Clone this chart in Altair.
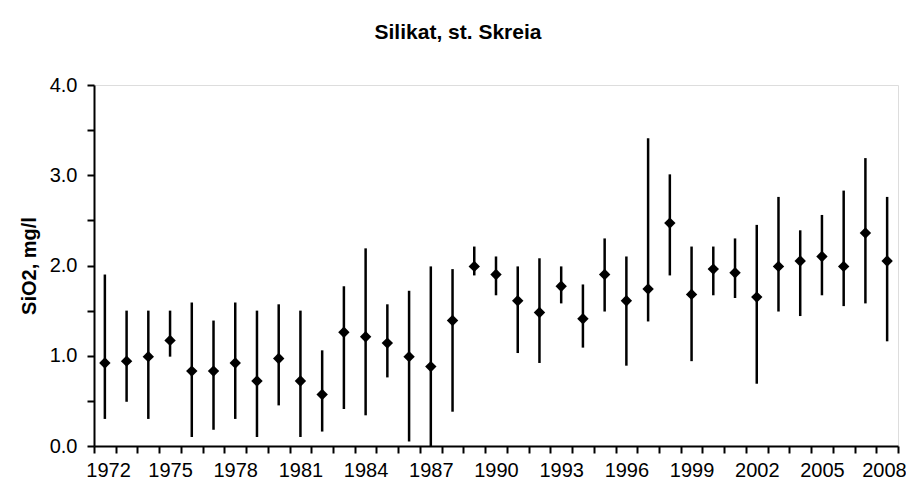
import altair as alt
import pandas as pd

years = list(range(1972, 2009))
means = [0.92, 0.94, 0.99, 1.17, 0.83, 0.83, 0.92, 0.72, 0.97, 0.72, 0.57, 1.26,
         1.21, 1.14, 0.99, 0.88, 1.39, 1.99, 1.90, 1.61, 1.48, 1.77, 1.41, 1.90,
         1.61, 1.74, 2.47, 1.68, 1.96, 1.92, 1.65, 1.99, 2.05, 2.10, 1.99, 2.36, 2.05]
lows = [0.30, 0.49, 0.30, 0.99, 0.10, 0.18, 0.30, 0.10, 0.45, 0.10, 0.16, 0.41,
        0.34, 0.76, 0.05, 0.00, 0.38, 1.89, 1.67, 1.03, 0.92, 1.58, 1.09, 1.49,
        0.89, 1.38, 1.89, 0.94, 1.67, 1.64, 0.69, 1.49, 1.44, 1.67, 1.55, 1.58, 1.16]
highs = [1.90, 1.50, 1.50, 1.50, 1.59, 1.39, 1.59, 1.50, 1.57, 1.50, 1.06, 1.77,
         2.19, 1.57, 1.72, 1.99, 1.96, 2.21, 2.10, 1.99, 2.08, 1.99, 1.79, 2.30,
         2.10, 3.41, 3.01, 2.21, 2.21, 2.30, 2.45, 2.76, 2.39, 2.56, 2.83, 3.19, 2.76]
y_ticks = [0.0, 0.5, 1.0, 1.5, 2.0, 2.5, 3.0, 3.5, 4.0]

df = pd.DataFrame({"year": years, "mean": means, "low": lows, "high": highs})

FONT = "Liberation Sans"

x_enc = alt.X(
    "year:O",
    scale=alt.Scale(type="band", paddingInner=0, paddingOuter=0),
    axis=alt.Axis(
        title=None,
        tickBand="extent",
        labelAngle=0,
        labelOverlap=False,
        labelExpr="(toNumber(datum.value) - 1972) % 3 == 0 ? datum.label : ''",
        labelFont=FONT, labelFontSize=20, labelColor="black",
        labelPadding=7,
        labelFlush=25,
        labelFlushOffset=19,
        ticks=True,
        tickSize=7, tickWidth=2, tickColor="black",
        domainColor="black", domainWidth=2,
    ),
)

y_axis = alt.Axis(
    title="SiO2, mg/l",
    values=y_ticks,
    labelExpr="datum.value % 1 == 0 ? format(datum.value, '.1f') : ''",
    labelFont=FONT, labelFontSize=20, labelColor="black",
    labelPadding=10,
    tickSize=7, tickWidth=2, tickColor="black",
    domainColor="black", domainWidth=2,
    grid=False,
    titleFont=FONT, titleFontSize=20, titleFontWeight="bold", titleColor="black",
    titlePadding=10,
)

rules = alt.Chart(df).mark_rule(color="black", strokeWidth=2.5).encode(
    x=x_enc,
    y=alt.Y("low:Q", scale=alt.Scale(domain=[0, 4], nice=False, zero=True), axis=y_axis),
    y2="high:Q",
)

points = alt.Chart(df).mark_point(
    shape="diamond", filled=True, color="black", size=130, opacity=1
).encode(
    x=x_enc,
    y=alt.Y("mean:Q"),
)

chart = alt.layer(rules, points).properties(
    width=804,
    height=361,
    title=alt.TitleParams(
        text="Silikat, st. Skreia",
        font=FONT, fontSize=21, fontWeight="bold", color="black",
        anchor="middle", offset=32, dx=-38,
    ),
    padding={"left": 86, "top": 77, "right": 8, "bottom": 33},
    autosize=alt.AutoSizeParams(type="none"),
).configure_view(
    stroke="black", strokeWidth=2
).configure(background="white")

chart.save("out.html", embed_options={"renderer": "svg", "actions": False})
